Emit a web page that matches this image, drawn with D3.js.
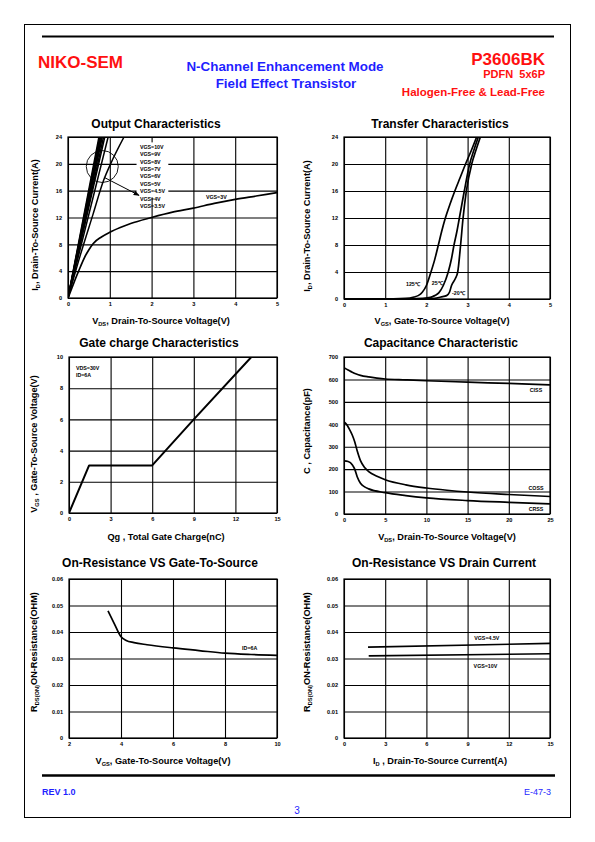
<!DOCTYPE html>
<html><head><meta charset="utf-8">
<script src="https://cdn.jsdelivr.net/npm/d3@7"></script>
<style>
body{margin:0;background:#fff}
svg{display:block}
text{font-family:"Liberation Sans",Arial,Helvetica,sans-serif}
</style>
</head><body>
<svg id="c" width="595" height="842"></svg>
<script>
// ---------------- DATA ----------------
// Output characteristics
const OUT_X_TICKS = [0,1,2,3,4,5];
const OUT_Y_TICKS = [0,4,8,12,16,20,24];
const OUT_VGS_LABELS = ["VGS=10V","VGS=9V","VGS=8V","VGS=7V","VGS=6V","VGS=5V","VGS=4.5V","VGS=4V","VGS=3.5V"];
const OUT_VGS10 = [[0,0],[0.37,12],[0.74,24]];
const OUT_VGS9  = [[0,0],[0.38,12],[0.76,24]];
const OUT_VGS8  = [[0,0],[0.39,12],[0.78,24]];
const OUT_VGS7  = [[0,0],[0.40,12],[0.80,24]];
const OUT_VGS6  = [[0,0],[0.41,12],[0.82,24]];
const OUT_VGS5  = [[0,0],[0.43,12],[0.85,24]];
const OUT_VGS45 = [[0,0],[0.44,12],[0.88,24]];
const OUT_VGS4  = [[0,0],[0.48,12],[0.96,24]];
const OUT_VGS35 = [[0,0],[0.3,6.5],[0.6,12.5],[0.85,17.5],[1.02,20],[1.34,24]];
const OUT_VGS3  = [[0,0],[0.1,1.6],[0.2,3.2],[0.3,4.7],[0.4,6.1],[0.5,7.2],[0.6,8.1],[0.8,9.1],[1.0,9.8],[1.25,10.5],[1.5,11.1],[2,12.0],[2.5,12.8],[3,13.4],[3.5,14.1],[4,14.7],[4.5,15.2],[5,15.7]];

// Transfer characteristics
const TR_X_TICKS = [0,1,2,3,4,5];
const TR_Y_TICKS = [0,4,8,12,16,20,24];
const TR_125 = [[0,0],[1.2,0.01],[1.5,0.08],[1.7,0.3],[1.8,0.5],[1.9,1.0],[2.0,2.0],[2.1,3.8],[2.2,5.8],[2.29,8],[2.37,10],[2.46,12],[2.57,14],[2.69,16],[2.82,18],[2.95,20],[3.09,22],[3.22,24]];
const TR_25  = [[0,0],[1.6,0.01],[1.9,0.08],[2.1,0.25],[2.2,0.5],[2.3,0.9],[2.41,2],[2.53,4],[2.61,6],[2.67,8],[2.74,10],[2.80,12],[2.86,14],[2.92,16],[3.05,20],[3.15,22],[3.26,24]];
const TR_N20 = [[0,0],[1.9,0.01],[2.2,0.1],[2.35,0.3],[2.49,0.5],[2.56,1],[2.61,2],[2.7,3],[2.76,4],[2.83,8],[2.89,12],[2.97,16],[3.10,20],[3.20,22],[3.31,24]];
const TR_LABELS = ["125℃","25℃","-20℃"];

// Gate charge
const GC_X_TICKS = [0,3,6,9,12,15];
const GC_Y_TICKS = [0,2,4,6,8,10];
const GC_VGS = [[0,0],[1.45,3.05],[6,3.05],[9,6],[13.15,10]];
const GC_NOTES = ["VDS=30V","ID=6A"];

// Capacitance
const CAP_X_TICKS = [0,5,10,15,20,25];
const CAP_Y_TICKS = [0,100,200,300,400,500,600,700];
const CAP_CISS = [[0,652],[0.5,642],[1,632],[1.5,624],[2,618],[3,611],[4,606],[5,602],[7.5,598],[10,594],[15,588],[20,582],[25,576]];
const CAP_COSS = [[0,410],[0.3,400],[0.6,382],[1,352],[1.3,322],[1.6,282],[2,238],[2.5,207],[3,189],[4,168],[5,153],[7.5,130],[10,116],[12.5,106],[15,98],[20,87],[25,78]];
const CAP_CRSS = [[0,237],[0.5,234],[1,220],[1.3,200],[1.6,166],[2,137],[2.5,121],[3,112],[5,95],[7.5,82],[10,72],[15,60],[20,52],[25,45]];
const CAP_LABELS = ["CISS","COSS","CRSS"];

// On-resistance vs VGS
const RV_X_TICKS = [2,4,6,8,10];
const RV_Y_TICKS = [0,0.01,0.02,0.03,0.04,0.05,0.06];
const RV_ID6 = [[3.5,0.048],[3.75,0.043],[4,0.0382],[4.2,0.0368],[4.5,0.036],[5,0.0352],[6,0.034],[7,0.033],[8,0.032],[9,0.0315],[10,0.0312]];

// On-resistance vs ID
const RI_X_TICKS = [0,3,6,9,12,15];
const RI_Y_TICKS = [0,0.01,0.02,0.03,0.04,0.05,0.06];
const RI_VGS45 = [[1.75,0.0343],[15,0.0357]];
const RI_VGS10 = [[1.8,0.0310],[15,0.0318]];

// ---------------- DRAWING ----------------
const svg = d3.select("#c");
const BLUE = "#1f1fff", RED = "#ff1010";
const FONT = '"Liberation Sans",Arial,sans-serif';

// page frame and rules
svg.append("rect").attr("x",24.5).attr("y",24.5).attr("width",546).attr("height",793)
  .attr("fill","none").attr("stroke","#000").attr("stroke-width",1);
svg.append("line").attr("x1",42).attr("x2",554).attr("y1",36.5).attr("y2",36.5).attr("stroke","#000").attr("stroke-width",2.2);
svg.append("line").attr("x1",42).attr("x2",555).attr("y1",775.5).attr("y2",775.5).attr("stroke","#000").attr("stroke-width",2.5);

function txt(x,y,s,o){
  const t = svg.append("text").attr("x",x).attr("y",y).text(s)
    .attr("font-size",o.size).attr("font-weight",o.bold?"bold":"normal")
    .attr("fill",o.color||"#000").attr("text-anchor",o.anchor||"start");
  return t;
}
// header
txt(38,68,"NIKO-SEM",{size:17,bold:true,color:RED});
txt(285,71,"N-Channel Enhancement Mode",{size:13.4,bold:true,color:BLUE,anchor:"middle"});
txt(286,87.5,"Field Effect Transistor",{size:13.4,bold:true,color:BLUE,anchor:"middle"});
txt(545,64.5,"P3606BK",{size:17,bold:true,color:RED,anchor:"end"});
txt(545,78,"PDFN\u00a0 5x6P",{size:11,bold:true,color:RED,anchor:"end"});
txt(545,96,"Halogen-Free & Lead-Free",{size:11.5,bold:true,color:RED,anchor:"end"});
// footer
txt(42,794.5,"REV 1.0",{size:9,bold:true,color:BLUE});
txt(551,794.5,"E-47-3",{size:9,color:BLUE,anchor:"end"});
txt(297,813.5,"3",{size:10,color:BLUE,anchor:"middle"});

// rich text with subscripts: parts = [[text, isSub], ...]
function rich(g,x,y,parts,size,rotate){
  const t = g.append("text").attr("font-size",size).attr("font-weight","bold")
    .attr("text-anchor","middle").attr("fill","#000");
  if(rotate){ t.attr("transform",`translate(${x},${y}) rotate(-90)`); }
  else { t.attr("x",x).attr("y",y); }
  parts.forEach(([s,sub],i)=>{
    const ts = t.append("tspan").text(s);
    if(sub){ ts.attr("font-size",size*0.62).attr("dy",size*0.22); }
    else if(i>0 && parts[i-1][1]){ ts.attr("dy",-size*0.22); }
  });
  return t;
}

let clipId = 0;
function chart(o){
  const g = svg.append("g");
  const x = d3.scaleLinear().domain(o.xDomain).range([o.x0,o.x1]);
  const y = d3.scaleLinear().domain(o.yDomain).range([o.y1,o.y0]);
  const w = o.x1-o.x0, h = o.y1-o.y0;
  // grid + tick labels through d3 axes
  const ax = g.append("g").attr("transform",`translate(0,${o.y1})`)
    .call(d3.axisBottom(x).tickValues(o.xTicks).tickSize(-h).tickPadding(4.5).tickFormat(o.xFmt||(d=>d)));
  const ay = g.append("g").attr("transform",`translate(${o.x0},0)`)
    .call(d3.axisLeft(y).tickValues(o.yTicks).tickSize(-w).tickPadding(6).tickFormat(o.yFmt||(d=>d)));
  [ax,ay].forEach(a=>{
    a.select(".domain").remove();
    a.selectAll("line").attr("stroke","#000").attr("stroke-width",1.1);
    a.selectAll("text").attr("font-size",5.6).attr("font-weight","bold").attr("font-family",FONT).attr("fill","#000");
  });
  g.append("rect").attr("x",o.x0).attr("y",o.y0).attr("width",w).attr("height",h)
    .attr("fill","none").attr("stroke","#000").attr("stroke-width",1.2);
  const id = "clip"+(clipId++);
  svg.append("clipPath").attr("id",id).append("rect").attr("x",o.x0).attr("y",o.y0).attr("width",w).attr("height",h);
  const lay = g.append("g").attr("clip-path",`url(#${id})`);
  // titles
  g.append("text").attr("x",o.title[0]).attr("y",o.title[1]).attr("text-anchor","middle")
    .attr("font-size",12).attr("font-weight","bold").text(o.title[2]);
  rich(g,o.xt[0],o.xt[1],o.xt[2],9.2,false);
  rich(g,o.yt[0],o.yt[1],o.yt[2],9.2,true);
  return {x,y,g,lay};
}
function curve(c,data,sw,type){
  const line = d3.line().x(d=>c.x(d[0])).y(d=>c.y(d[1])).curve(type||d3.curveMonotoneX);
  c.lay.append("path").attr("d",line(data)).attr("fill","none").attr("stroke","#000")
    .attr("stroke-width",sw||1.6).attr("stroke-linejoin","round");
}
function small(c,x,y,s,anchor){
  c.g.append("text").attr("x",x).attr("y",y).attr("font-size",5.3).attr("font-weight","bold")
    .attr("text-anchor",anchor||"start").text(s);
}

// 1. Output Characteristics
const c1 = chart({x0:68,y0:137,x1:277,y1:298,xDomain:[0,5],yDomain:[0,24],xTicks:OUT_X_TICKS,yTicks:OUT_Y_TICKS,
  title:[156,128,"Output Characteristics"],
  xt:[161,324,[["V"],["DS",1],[", Drain-To-Source Voltage(V)"]]],
  yt:[38,225,[["I"],["D",1],[", Drain-To-Source Current(A)"]]]});
// legend box (white) behind labels
c1.g.append("rect").attr("x",c1.x(1.64)).attr("y",c1.y(23.2)).attr("width",c1.x(2.4)-c1.x(1.64))
  .attr("height",c1.y(15.0)-c1.y(23.2)).attr("fill","#fff");
[OUT_VGS10,OUT_VGS9,OUT_VGS8,OUT_VGS7,OUT_VGS6,OUT_VGS5,OUT_VGS45,OUT_VGS4,OUT_VGS35].forEach(d=>curve(c1,d,1.5));
curve(c1,OUT_VGS3,1.7);
OUT_VGS_LABELS.forEach((s,i)=>small(c1,c1.x(1.72),c1.y(22.2)+i*7.35,s));
small(c1,c1.x(3.3),c1.y(14.8),"VGS=3V");
c1.g.append("circle").attr("cx",c1.x(0.82)).attr("cy",c1.y(19.6)).attr("r",16)
  .attr("fill","none").attr("stroke","#000").attr("stroke-width",0.9);
svg.append("defs").append("marker").attr("id","arr").attr("viewBox","0 0 10 10").attr("refX",9).attr("refY",5)
  .attr("markerWidth",6).attr("markerHeight",6).attr("orient","auto")
  .append("path").attr("d","M0,1 L10,5 L0,9 z").attr("fill","#000");
c1.g.append("line").attr("x1",c1.x(0.86)).attr("y1",c1.y(18)).attr("x2",c1.x(1.7)).attr("y2",c1.y(15.3))
  .attr("stroke","#000").attr("stroke-width",1).attr("marker-end","url(#arr)");

// 2. Transfer Characteristics
const c2 = chart({x0:344,y0:137,x1:550,y1:299,xDomain:[0,5],yDomain:[0,24],xTicks:TR_X_TICKS,yTicks:TR_Y_TICKS,
  title:[440,128,"Transfer Characteristics"],
  xt:[442,324,[["V"],["GS",1],[", Gate-To-Source Voltage(V)"]]],
  yt:[310,226,[["I"],["D",1],[", Drain-To-Source Current(A)"]]]});
[TR_125,TR_25,TR_N20].forEach(d=>curve(c2,d,1.7));
small(c2,c2.x(1.84),c2.y(1.9),TR_LABELS[0],"end");
small(c2,c2.x(2.13),c2.y(2.1),TR_LABELS[1],"start");
small(c2,c2.x(2.62),c2.y(0.6),TR_LABELS[2],"start");

// 3. Gate charge
const c3 = chart({x0:69,y0:357,x1:277,y1:513,xDomain:[0,15],yDomain:[0,10],xTicks:GC_X_TICKS,yTicks:GC_Y_TICKS,
  title:[159,347,"Gate charge Characteristics"],
  xt:[166,540,[["Qg , Total Gate Charge(nC)"]]],
  yt:[37,444,[["V"],["GS",1],[" , Gate-To-Source Voltage(V)"]]]});
curve(c3,GC_VGS,2,d3.curveLinear);
GC_NOTES.forEach((s,i)=>small(c3,c3.x(0.5),c3.y(9.15)+i*7,s));

// 4. Capacitance
const c4 = chart({x0:344,y0:357,x1:550,y1:514,xDomain:[0,25],yDomain:[0,700],xTicks:CAP_X_TICKS,yTicks:CAP_Y_TICKS,
  title:[441,347,"Capacitance Characteristic"],
  xt:[447,540,[["V"],["DS",1],[", Drain-To-Source Voltage(V)"]]],
  yt:[310,431,[["C , Capacitance(pF)"]]]});
[CAP_CISS,CAP_COSS,CAP_CRSS].forEach(d=>curve(c4,d,1.7));
small(c4,c4.x(23.3),c4.y(543),CAP_LABELS[0],"middle");
small(c4,c4.x(23.3),c4.y(107),CAP_LABELS[1],"middle");
small(c4,c4.x(23.3),c4.y(13),CAP_LABELS[2],"middle");

// 5. On-resistance vs gate-to-source
const resFmt = d=>d===0?"0":d.toFixed(2);
const c5 = chart({x0:69,y0:579,x1:277,y1:738,xDomain:[2,10],yDomain:[0,0.06],xTicks:RV_X_TICKS,yTicks:RV_Y_TICKS,yFmt:resFmt,
  title:[160,567,"On-Resistance VS Gate-To-Source"],
  xt:[163,764,[["V"],["GS",1],[", Gate-To-Source Voltage(V)"]]],
  yt:[37,652,[["R"],["DS(ON)",1],["ON-Resistance(OHM)"]]]});
curve(c5,RV_ID6,1.7);
small(c5,c5.x(8.95),c5.y(0.0332),"ID=6A","middle");

// 6. On-resistance vs drain current
const c6 = chart({x0:344,y0:579,x1:550,y1:738,xDomain:[0,15],yDomain:[0,0.06],xTicks:RI_X_TICKS,yTicks:RI_Y_TICKS,yFmt:resFmt,
  title:[444,567,"On-Resistance VS Drain Current"],
  xt:[440,764,[["I"],["D",1],[" , Drain-To-Source Current(A)"]]],
  yt:[310,652,[["R"],["DS(ON)",1],["ON-Resistance(OHM)"]]]});
curve(c6,RI_VGS45,1.6,d3.curveLinear);
curve(c6,RI_VGS10,1.6,d3.curveLinear);
small(c6,c6.x(10.4),c6.y(0.0370),"VGS=4.5V","middle");
small(c6,c6.x(10.3),c6.y(0.0264),"VGS=10V","middle");
</script>
</body></html>
